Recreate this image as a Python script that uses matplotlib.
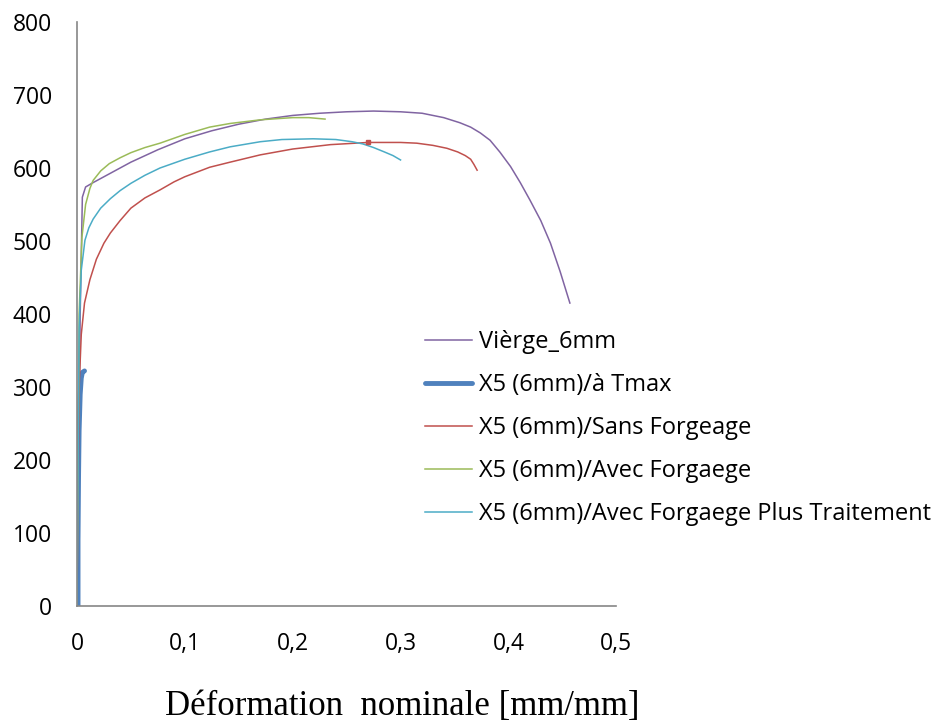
import matplotlib.pyplot as plt

# Vierge_6mm
def_vierge = [0, 0.003, 0.005, 0.008, 0.015, 0.03, 0.05, 0.075, 0.1, 0.125, 0.15, 0.175, 0.2, 0.225, 0.25, 0.275, 0.3,
              0.32, 0.34, 0.355, 0.365, 0.374, 0.383, 0.392, 0.402, 0.411, 0.42, 0.43, 0.439, 0.448, 0.457]
sig_vierge = [0, 400, 560, 574, 580, 592, 608, 625, 640, 651, 660, 667, 672, 675, 677, 678, 677,
              675, 669, 662, 656, 648, 638, 622, 602, 580, 556, 528, 497, 458, 415]

# X5 (6mm)/à Tmax
def_tmax = [0.001, 0.001, 0.0015, 0.002, 0.003, 0.004, 0.005, 0.007]
sig_tmax = [0, 90, 180, 240, 290, 312, 320, 322]

# X5 (6mm)/Sans Forgeage
def_sans = [0, 0.002, 0.004, 0.007, 0.012, 0.018, 0.025, 0.031, 0.04, 0.05, 0.063, 0.077, 0.09, 0.1, 0.123, 0.142, 0.17,
            0.2, 0.235, 0.27, 0.3, 0.315, 0.33, 0.343, 0.353, 0.36, 0.365, 0.368, 0.371]
sig_sans = [0, 300, 372, 415, 447, 475, 497, 511, 528, 545, 559, 570, 581, 588, 601, 608, 618,
            626, 632, 635, 635, 634, 631, 627, 622, 617, 612, 605, 597]

# X5 (6mm)/Avec Forgaege
def_avec = [0, 0.002, 0.0046, 0.008, 0.012, 0.015, 0.022, 0.03, 0.04, 0.05, 0.063, 0.077, 0.1, 0.123, 0.142, 0.17, 0.2, 0.215, 0.23]
sig_avec = [0, 400, 505, 550, 572, 583, 596, 606, 614, 621, 628, 634, 646, 656, 661, 666, 669, 669, 667]

# X5 (6mm)/Avec Forgaege Plus Traitement
def_trait = [0, 0.002, 0.004, 0.0074, 0.011, 0.015, 0.022, 0.031, 0.04, 0.05, 0.063, 0.077, 0.1, 0.123, 0.142, 0.17, 0.19,
             0.219, 0.24, 0.255, 0.265, 0.275, 0.285, 0.293, 0.3]
sig_trait = [0, 380, 460, 501, 518, 530, 545, 558, 569, 579, 590, 600, 612, 622, 629, 636, 639,
             640, 639, 636, 633, 628, 622, 617, 611]

noms = ['Vièrge_6mm', 'X5 (6mm)/à Tmax', 'X5 (6mm)/Sans Forgeage',
        'X5 (6mm)/Avec Forgaege', 'X5 (6mm)/Avec Forgaege Plus Traitement']
couleurs = ['#8064A2', '#4F81BD', '#C0504D', '#9BBB59', '#4BACC6']

xticks = [0, 0.1, 0.2, 0.3, 0.4, 0.5]
xlabels = ['0', '0,1', '0,2', '0,3', '0,4', '0,5']
yticks = [0, 100, 200, 300, 400, 500, 600, 700, 800]

fig = plt.figure(figsize=(9.42, 7.26), dpi=100)
ax = fig.add_axes([0.0817, 0.1653, 0.5725, 0.8044])

ax.plot(def_vierge, sig_vierge, color=couleurs[0], lw=1.1, label=noms[0])
ax.plot(def_tmax, sig_tmax, color=couleurs[1], lw=3.5, solid_capstyle='round', label=noms[1])
ax.plot(def_sans, sig_sans, color=couleurs[2], lw=1.1, label=noms[2])
ax.plot(def_avec, sig_avec, color=couleurs[3], lw=1.1, label=noms[3])
ax.plot(def_trait, sig_trait, color=couleurs[4], lw=1.1, label=noms[4])
# petit marqueur sur la courbe sans forgeage
ax.plot([def_sans[19]], [sig_sans[19]], 's', color=couleurs[2], ms=3.5)

ax.set_xlim(0, 0.5)
ax.set_ylim(0, 800)
ax.set_xticks(xticks)
ax.set_xticklabels(xlabels)
ax.set_yticks(yticks)
for s in ['top', 'right']:
    ax.spines[s].set_visible(False)
for s in ['left', 'bottom']:
    ax.spines[s].set_color('#868686')
    ax.spines[s].set_linewidth(1.2)
ax.tick_params(axis='y', length=0, pad=18, labelsize=16.5)
ax.tick_params(axis='x', length=0, pad=19, labelsize=16.5)
for lab in ax.get_xticklabels() + ax.get_yticklabels():
    lab.set_fontfamily('Open Sans')

fig.text(0.427, 0.027, 'Déformation  nominale [mm/mm]', family='Liberation Serif',
         fontsize=25, ha='center', va='center')

fig.legend(loc='upper left', bbox_to_anchor=(0.451, 0.545), frameon=False,
           prop={'family': 'Open Sans', 'size': 17}, handlelength=2.0,
           handletextpad=0.3, labelspacing=0.8, borderpad=0, borderaxespad=0)

plt.savefig('out.png')
